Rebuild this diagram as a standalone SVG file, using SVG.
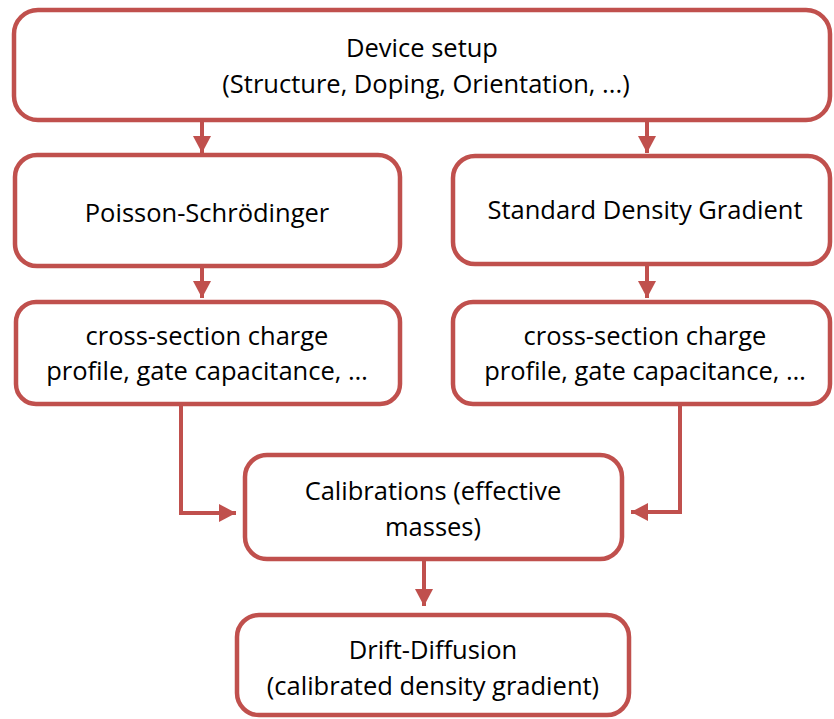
<svg xmlns="http://www.w3.org/2000/svg" width="834" height="719" viewBox="0 0 834 719">
<style>
.box{fill:#fff;stroke:#C0504D;stroke-width:4.5}
.t{font-family:"Open Sans","Liberation Sans",sans-serif;font-size:25.5px;fill:#000;text-anchor:middle}
.c{fill:none;stroke:#C0504D;stroke-width:4}
</style>
<defs>
<marker id="ah" markerUnits="userSpaceOnUse" markerWidth="18" markerHeight="18" refX="17" refY="9" orient="auto">
<path d="M0,0 L17,9 L0,18 Z" fill="#C0504D"/>
</marker>
</defs>
<g id="connectors">
<line class="c" x1="202" y1="122" x2="202" y2="153" marker-end="url(#ah)"/>
<line class="c" x1="647" y1="122" x2="647" y2="153" marker-end="url(#ah)"/>
<line class="c" x1="202" y1="267" x2="202" y2="298" marker-end="url(#ah)"/>
<line class="c" x1="647" y1="264" x2="647" y2="298" marker-end="url(#ah)"/>
<path class="c" d="M125,404 H181 V513 H236" marker-end="url(#ah)"/>
<path class="c" d="M729,404 H680 V512 H631" marker-end="url(#ah)"/>
<line class="c" x1="424" y1="561" x2="424" y2="606" marker-end="url(#ah)"/>
</g>
<g id="device-setup">
<rect class="box" x="14" y="10" width="816" height="110" rx="24"/>
<text class="t" x="422" y="57">Device setup</text>
<text class="t" x="426" y="93">(Structure, Doping, Orientation, ...)</text>
</g>
<g id="poisson">
<rect class="box" x="15" y="155" width="385" height="111" rx="22"/>
<text class="t" x="207" y="222">Poisson-Schrödinger</text>
</g>
<g id="sdg">
<rect class="box" x="453" y="156" width="377" height="108" rx="22"/>
<text class="t" x="645" y="219">Standard Density Gradient</text>
</g>
<g id="cs-left">
<rect class="box" x="16" y="302" width="384" height="102" rx="20"/>
<text class="t" x="207" y="345">cross-section charge</text>
<text class="t" x="207" y="380">profile, gate capacitance, …</text>
</g>
<g id="cs-right">
<rect class="box" x="453" y="302" width="377" height="102" rx="20"/>
<text class="t" x="645" y="345">cross-section charge</text>
<text class="t" x="645" y="380">profile, gate capacitance, …</text>
</g>
<g id="calibrations">
<rect class="box" x="245" y="455" width="377" height="104" rx="22"/>
<text class="t" x="433" y="500">Calibrations (effective</text>
<text class="t" x="433" y="536">masses)</text>
</g>
<g id="drift-diffusion">
<rect class="box" x="237" y="615" width="392" height="100" rx="22"/>
<text class="t" x="433" y="659">Drift-Diffusion</text>
<text class="t" x="433" y="695">(calibrated density gradient)</text>
</g>
</svg>
